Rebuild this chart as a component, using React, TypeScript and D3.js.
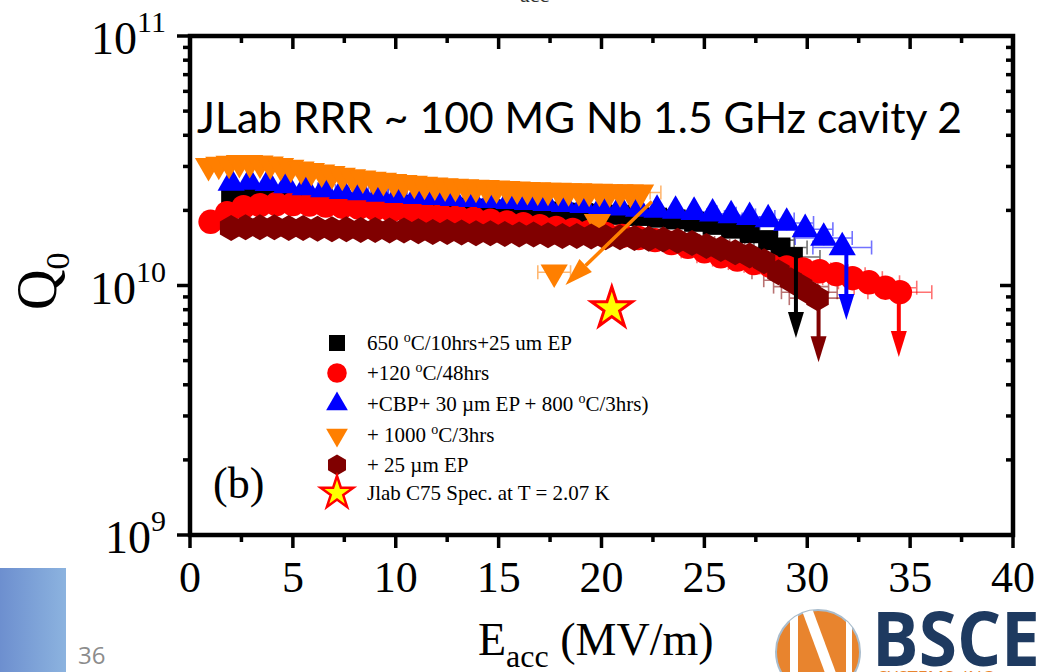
import * as d3 from "d3";

// Eacc in MV/m, Q0 in units of 1e10
const e650 = [2.0, 2.9, 3.8, 4.7, 5.6, 6.5, 7.4, 8.3, 9.2, 10.1, 11.0, 11.9, 12.8, 13.7, 14.6, 15.5, 16.4, 17.3, 18.2, 19.1, 20.0, 20.9, 21.8, 22.7, 23.6, 24.5, 25.4, 26.3, 27.2, 28.1, 28.7, 29.3];
const q650 = [2.22, 2.24, 2.23, 2.21, 2.19, 2.17, 2.15, 2.13, 2.11, 2.1, 2.08, 2.06, 2.05, 2.03, 2.02, 2.0, 1.99, 1.98, 1.96, 1.95, 1.94, 1.92, 1.9, 1.87, 1.84, 1.8, 1.75, 1.69, 1.62, 1.52, 1.42, 1.3];

const e120 = [1.0, 1.8, 2.6, 3.4, 4.2, 5.0, 5.8, 6.6, 7.4, 8.2, 9.0, 9.8, 10.6, 11.4, 12.2, 13.0, 13.8, 14.6, 15.4, 16.2, 17.0, 17.8, 18.6, 19.4, 20.2, 21.0, 21.8, 22.6, 23.4, 24.2, 25.0, 25.8, 26.6, 27.4, 28.2, 29.0, 29.8, 30.6, 31.4, 32.2, 33.0, 33.8, 34.5];
const q120 = [1.8, 1.95, 2.06, 2.1, 2.12, 2.12, 2.11, 2.09, 2.07, 2.05, 2.03, 2.0, 1.97, 1.94, 1.91, 1.88, 1.85, 1.82, 1.79, 1.76, 1.73, 1.7, 1.67, 1.64, 1.61, 1.58, 1.55, 1.52, 1.48, 1.43, 1.37, 1.31, 1.27, 1.23, 1.2, 1.18, 1.16, 1.14, 1.11, 1.07, 1.03, 0.98, 0.94];

const eCbp = [2.0, 2.9, 3.8, 4.7, 5.6, 6.5, 7.4, 8.3, 9.2, 10.1, 11.0, 11.9, 12.8, 13.7, 14.6, 15.5, 16.4, 17.3, 18.2, 19.1, 20.0, 20.9, 21.8, 22.7, 23.6, 24.5, 25.4, 26.3, 27.2, 28.1, 29.0, 29.9, 30.8, 31.7];
const qCbp = [2.58, 2.6, 2.57, 2.52, 2.47, 2.43, 2.39, 2.36, 2.33, 2.3, 2.28, 2.26, 2.24, 2.22, 2.2, 2.18, 2.16, 2.14, 2.12, 2.1, 2.07, 2.05, 2.03, 2.01, 1.99, 1.97, 1.94, 1.91, 1.88, 1.84, 1.78, 1.68, 1.55, 1.42];

const e1000 = [0.9, 1.4, 1.9, 2.4, 2.9, 3.4, 3.9, 4.4, 4.9, 5.4, 5.9, 6.4, 6.9, 7.4, 7.9, 8.4, 8.9, 9.4, 9.9, 10.4, 10.9, 11.4, 11.9, 12.4, 12.9, 13.4, 13.9, 14.4, 14.9, 15.4, 15.9, 16.4, 16.9, 17.4, 17.9, 18.4, 18.9, 19.4, 19.9, 20.4, 20.9, 21.4, 21.9, 19.8, 17.7];
const q1000 = [3.02, 3.05, 3.08, 3.1, 3.1, 3.09, 3.06, 3.02, 2.97, 2.92, 2.88, 2.84, 2.8, 2.76, 2.72, 2.69, 2.66, 2.63, 2.6, 2.58, 2.56, 2.54, 2.52, 2.5, 2.49, 2.48, 2.47, 2.46, 2.45, 2.44, 2.43, 2.42, 2.41, 2.4, 2.4, 2.39, 2.39, 2.38, 2.38, 2.37, 2.37, 2.36, 2.36, 1.8, 1.13];

const eEp = [2.0, 2.7, 3.4, 4.1, 4.8, 5.5, 6.2, 6.9, 7.6, 8.3, 9.0, 9.7, 10.4, 11.1, 11.8, 12.5, 13.2, 13.9, 14.6, 15.3, 16.0, 16.7, 17.4, 18.1, 18.8, 19.5, 20.2, 20.9, 21.6, 22.3, 23.0, 23.7, 24.4, 25.1, 25.8, 26.5, 27.2, 27.9, 28.6, 29.2, 29.7, 30.1, 30.5];
const qEp = [1.7, 1.71, 1.71, 1.71, 1.7, 1.7, 1.69, 1.68, 1.68, 1.67, 1.67, 1.66, 1.66, 1.65, 1.64, 1.64, 1.63, 1.62, 1.62, 1.61, 1.6, 1.6, 1.59, 1.58, 1.58, 1.57, 1.56, 1.56, 1.55, 1.54, 1.53, 1.51, 1.48, 1.44, 1.4, 1.36, 1.32, 1.25, 1.13, 1.05, 0.99, 0.94, 0.89];

// JLab C75 spec point
const specE = 20.5;
const specQ = 0.81;

// quench arrows: [Eacc, Q from, Q to] (x1e10)
const limitArrows: [number, number, number, string][] = [
  [29.45, 1.3, 0.616, "#000000"],
  [34.45, 0.94, 0.517, "#ff0000"],
  [31.9, 1.42, 0.727, "#0000ff"],
  [30.55, 0.89, 0.493, "#800000"],
];
// annotation arrow on the 1000 C data: [E1, Q1, E2, Q2]
const dropArrow = [22.45, 2.17, 18.25, 1.005];

const xTicks = [0, 5, 10, 15, 20, 25, 30, 35, 40];
const yDecades = [1e9, 1e10, 1e11];
const yExponents = ["9", "10", "11"];

type Part = { t: string; sup?: boolean };
const legendLabels: Part[][] = [
  [{ t: "650 " }, { t: "o", sup: true }, { t: "C/10hrs+25 um EP" }],
  [{ t: "+120 " }, { t: "o", sup: true }, { t: "C/48hrs" }],
  [{ t: "+CBP+ 30 \u00b5m EP + 800 " }, { t: "o", sup: true }, { t: "C/3hrs)" }],
  [{ t: "+ 1000 " }, { t: "o", sup: true }, { t: "C/3hrs" }],
  [{ t: "+ 25 \u00b5m EP" }],
  [{ t: "Jlab C75 Spec. at T = 2.07 K" }],
];

const series = [
  { e: e650, q: q650, color: "#000000", shape: "square" },
  { e: e120, q: q120, color: "#ff0000", shape: "circle" },
  { e: eCbp, q: qCbp, color: "#0000ff", shape: "triangle" },
  { e: e1000, q: q1000, color: "#ff7f00", shape: "down" },
  { e: eEp, q: qEp, color: "#800000", shape: "hexagon" },
];

function symbolPath(shape: string, scale = 1) {
  if (shape === "hexagon") {
    const r = 13 * scale;
    const pts = d3.range(6).map((i) => {
      const a = ((-90 + i * 60) * Math.PI) / 180;
      return [r * Math.cos(a), r * Math.sin(a)];
    });
    return "M" + pts.map((p) => p.join(",")).join("L") + "Z";
  }
  const types: Record<string, [d3.SymbolType, number]> = {
    square: [d3.symbolSquare, 400],
    circle: [d3.symbolCircle, 470],
    triangle: [d3.symbolTriangle, 320],
    down: [d3.symbolTriangle, 320],
    star: [d3.symbolStar, 520],
  };
  const [t, s] = types[shape];
  return d3.symbol(t, s * scale * scale)() ?? "";
}

export default function App() {
  const x = d3.scaleLinear().domain([0, 40]).range([190, 1013]);
  const y = d3.scaleLog().domain([1e9, 1e11]).range([535, 36]);
  const [x0, x1] = x.range();
  const [y0, y1] = y.range();
  const xMinor = d3.range(2.5, 40, 5);
  const yMinor = y.ticks().filter((v) => !yDecades.includes(v));
  const serif = "'Liberation Serif', 'Times New Roman', serif";

  const arrowHead = (xa: number, ya: number, xb: number, yb: number, len: number, half: number) => {
    const ang = Math.atan2(yb - ya, xb - xa);
    const bx = xb - len * Math.cos(ang);
    const by = yb - len * Math.sin(ang);
    const px = -Math.sin(ang) * half;
    const py = Math.cos(ang) * half;
    return { bx, by, pts: `${xb},${yb} ${bx + px},${by + py} ${bx - px},${by - py}` };
  };

  return (
    <svg
      width={1045}
      height={672}
      style={{ position: "absolute", left: 0, top: 0, background: "#fff" }}
      fontFamily={serif}
    >
      <defs>
        <linearGradient id="sideBar" x1="0" x2="1" y1="0" y2="0">
          <stop offset="0" stopColor="#6d8fcf" />
          <stop offset="1" stopColor="#8cb3df" />
        </linearGradient>
        <clipPath id="logoClip">
          <circle cx={818} cy={652} r={42} />
        </clipPath>
      </defs>

      {/* cut-off text from slide above */}
      <text x={520} y={2} fontSize={22} fill="#333">acc</text>

      {/* error bars */}
      <g>
        {series.map((s, si) =>
          s.e.map((e, i) => {
            const cx = x(e);
            const cy = y(s.q[i] * 1e10);
            const dx = x(e * 1.045) - cx;
            const yt = y(s.q[i] * 1e10 * 1.07);
            const yb = y(s.q[i] * 1e10 / 1.07);
            return (
              <g key={`${si}-${i}`} stroke={s.color} strokeWidth={1.6} opacity={0.55}>
                <line x1={cx - dx} x2={cx + dx} y1={cy} y2={cy} />
                <line x1={cx - dx} x2={cx - dx} y1={cy - 7} y2={cy + 7} />
                <line x1={cx + dx} x2={cx + dx} y1={cy - 7} y2={cy + 7} />
                <line x1={cx} x2={cx} y1={yt} y2={yb} />
              </g>
            );
          })
        )}
      </g>

      {/* markers */}
      {series.map((s, si) => (
        <g key={si} fill={s.color}>
          {s.e.map((e, i) => (
            <path
              key={i}
              d={symbolPath(s.shape)}
              transform={`translate(${x(e)},${y(s.q[i] * 1e10)})${s.shape === "down" ? " rotate(180)" : ""}`}
            />
          ))}
        </g>
      ))}

      {/* quench arrows */}
      {limitArrows.map(([e, qa, qb, c], i) => {
        const xa = x(e);
        const ya = y(qa * 1e10);
        const yb = y(qb * 1e10);
        const h = arrowHead(xa, ya, xa, yb, 26, 8);
        return (
          <g key={i}>
            <line x1={xa} x2={xa} y1={ya} y2={h.by + 1} stroke={c} strokeWidth={4} />
            <polygon points={h.pts} fill={c} />
          </g>
        );
      })}

      {/* orange annotation arrow */}
      {(() => {
        const xa = x(dropArrow[0]);
        const ya = y(dropArrow[1] * 1e10);
        const xb = x(dropArrow[2]);
        const yb = y(dropArrow[3] * 1e10);
        const h = arrowHead(xa, ya, xb, yb, 28, 9);
        return (
          <g>
            <line x1={xa} y1={ya} x2={h.bx} y2={h.by} stroke="#ff7f00" strokeWidth={3.5} />
            <polygon points={h.pts} fill="#ff7f00" />
          </g>
        );
      })()}

      {/* spec star */}
      <path
        d={symbolPath("star")}
        transform={`translate(${x(specE)},${y(specQ * 1e10)})`}
        fill="#ffff00"
        stroke="#ff0000"
        strokeWidth={3}
        strokeLinejoin="miter"
      />

      {/* frame */}
      <rect x={x0} y={y1} width={x1 - x0} height={y0 - y1} fill="none" stroke="#000" strokeWidth={4.5} />

      {/* ticks */}
      <g stroke="#000" strokeWidth={3.5}>
        {xTicks.map((t) => (
          <g key={t}>
            <line x1={x(t)} x2={x(t)} y1={y0} y2={y0 + 13} />
            <line x1={x(t)} x2={x(t)} y1={y1} y2={y1 + 13} />
          </g>
        ))}
        {xMinor.map((t) => (
          <g key={t}>
            <line x1={x(t)} x2={x(t)} y1={y0} y2={y0 + 7} />
            <line x1={x(t)} x2={x(t)} y1={y1} y2={y1 + 7} />
          </g>
        ))}
        {yDecades.map((t) => (
          <g key={t}>
            <line x1={x0} x2={x0 - 13} y1={y(t)} y2={y(t)} />
            <line x1={x1} x2={x1 - 13} y1={y(t)} y2={y(t)} />
          </g>
        ))}
        {yMinor.map((t) => (
          <g key={t}>
            <line x1={x0} x2={x0 - 7} y1={y(t)} y2={y(t)} />
            <line x1={x1} x2={x1 - 7} y1={y(t)} y2={y(t)} />
          </g>
        ))}
      </g>

      {/* tick labels */}
      {xTicks.map((t) => (
        <text key={t} x={x(t)} y={592} fontSize={44} textAnchor="middle">
          {t}
        </text>
      ))}
      {yDecades.map((t, i) => (
        <text key={t} x={166} y={y(t) + 18} fontSize={46} textAnchor="end">
          10
          <tspan dy={-22} fontSize={30}>{yExponents[i]}</tspan>
        </text>
      ))}

      {/* axis titles */}
      <text transform="translate(56,310) rotate(-90)" fontSize={56}>
        Q<tspan dy={13} fontSize={34}>0</tspan>
      </text>
      <text x={478} y={655} fontSize={46}>
        E<tspan dy={12} fontSize={32}>acc</tspan>
        <tspan dy={-12}> (MV/m)</tspan>
      </text>

      {/* title and panel label */}
      <text
        x={197}
        y={133}
        fontSize={42}
        fontFamily="Lato, 'Open Sans', sans-serif"
        textLength={765}
        lengthAdjust="spacingAndGlyphs"
      >
        JLab RRR ~ 100 MG Nb 1.5 GHz cavity 2
      </text>
      <text x={213} y={498} fontSize={44}>(b)</text>

      {/* legend */}
      {legendLabels.map((parts, i) => {
        const ly = [343, 373, 404, 435, 465, 493][i];
        const shape = i < 5 ? series[i].shape : "star";
        const color = i < 5 ? series[i].color : "#ffff00";
        return (
          <g key={i}>
            <path
              d={symbolPath(shape, shape === "star" ? 0.8 : 0.8)}
              transform={`translate(337,${ly})${shape === "down" ? " rotate(180)" : ""}`}
              fill={color}
              stroke={shape === "star" ? "#ff0000" : "none"}
              strokeWidth={2.5}
            />
            <text x={367} y={ly + 7} fontSize={21}>
              {parts.map((p, j) =>
                p.sup ? (
                  <tspan key={j} dy={-8} fontSize={14}>
                    {p.t}
                  </tspan>
                ) : (
                  <tspan key={j} dy={j > 0 && parts[j - 1].sup ? 8 : 0}>
                    {p.t}
                  </tspan>
                )
              )}
            </text>
          </g>
        );
      })}

      {/* slide decorations */}
      <rect x={0} y={568} width={66} height={104} fill="url(#sideBar)" />
      <text x={78} y={664} fontSize={24} fill="#8c8c8c" fontFamily="'Open Sans', sans-serif">36</text>

      <g>
        <circle cx={818} cy={652} r={42} fill="#e8842e" stroke="#a9bccc" strokeWidth={2} />
        <g clipPath="url(#logoClip)" fill="#fff">
          <polygon points="790,600 798,600 798,700 790,700" />
          <polygon points="798,600 809,600 846,700 835,700" />
          <polygon points="846,600 852,600 852,700 846,700" />
        </g>
        <text
          x={872}
          y={666}
          fontSize={76}
          fontWeight="bold"
          fill="#1e3a60"
          fontFamily="'Open Sans', 'Liberation Sans', sans-serif"
          textLength={168}
          lengthAdjust="spacingAndGlyphs"
        >
          BSCE
        </text>
        <text x={878} y={684} fontSize={18} fill="#e8842e" fontFamily="'Open Sans', sans-serif">
          SYSTEMS, INC
        </text>
      </g>
    </svg>
  );
}
